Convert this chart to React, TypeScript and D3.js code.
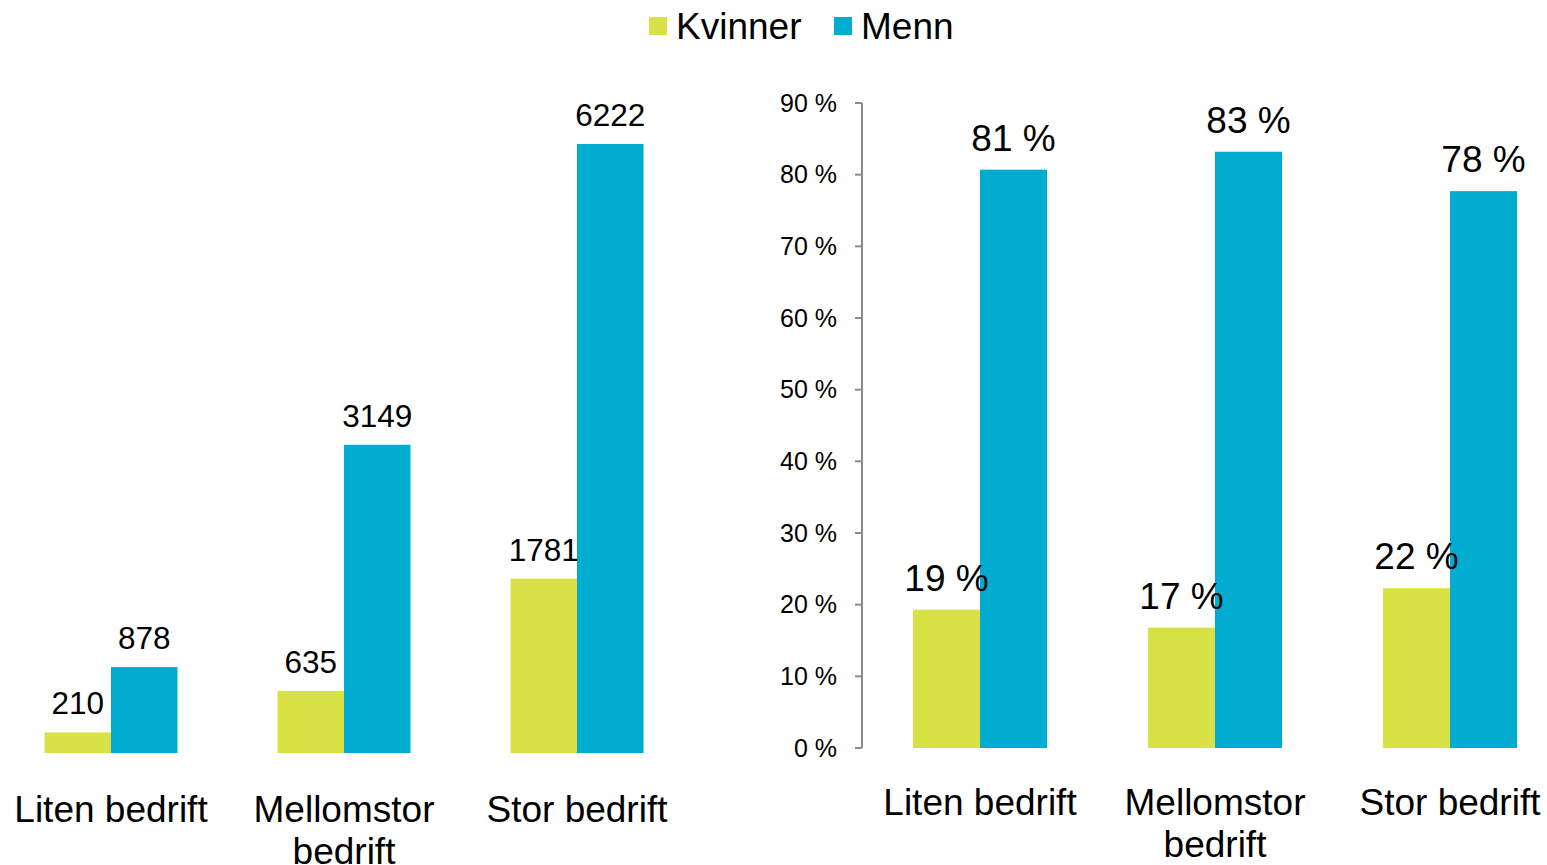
import React from "react";
import * as d3 from "d3";

const categories = ["Liten bedrift", "Mellomstor bedrift", "Stor bedrift"];
const categoryLines = [["Liten bedrift"], ["Mellomstor", "bedrift"], ["Stor bedrift"]];
const series = ["Kvinner", "Menn"];
const countKvinner = [210, 635, 1781];
const countMenn = [878, 3149, 6222];
const pctKvinner = [19.3, 16.8, 22.3];
const pctMenn = [80.7, 83.2, 77.7];
const pctLabelsKvinner = ["19 %", "17 %", "22 %"];
const pctLabelsMenn = ["81 %", "83 %", "78 %"];
const pctTicks = [0, 10, 20, 30, 40, 50, 60, 70, 80, 90];

const colors = ["#D9E245", "#00ADD0"];
const FONT = "'Liberation Sans', Arial, Helvetica, sans-serif";

export default function App() {
  const W = 1547, H = 865;

  // Left chart
  const lx0 = d3.scaleBand<string>().domain(categories).range([-5.5, 693.5]).padding(0);
  const lStep = lx0.step();
  const lx1 = d3.scaleBand<string>().domain(series).range([lStep / 2 - 66.5, lStep / 2 + 66.5]).padding(0);
  const ly = d3.scaleLinear().domain([0, 7000]).range([753, 753 - 7000 * (609 / 6222)]);
  const leftData = [countKvinner, countMenn];

  // Right chart
  const rx0 = d3.scaleBand<string>().domain(categories).range([862.5, 1567.5]).padding(0);
  const rStep = rx0.step();
  const rx1 = d3.scaleBand<string>().domain(series).range([rStep / 2 - 67, rStep / 2 + 67]).padding(0);
  const ry = d3.scaleLinear().domain([0, 90]).range([748, 103]);
  const rightData = [pctKvinner, pctMenn];
  const rightLabels = [pctLabelsKvinner, pctLabelsMenn];
  const axisX = 862;

  return (
    <svg width={W} height={H} style={{ position: "absolute", left: 0, top: 0, background: "#fff" }} fontFamily={FONT}>
      {/* Legend */}
      {series.map((s, i) => {
        const x = [649, 834][i];
        return (
          <g key={s}>
            <rect x={x} y={17} width={18} height={18} fill={colors[i]} />
            <text x={x + 27} y={39} fontSize={37} fill="#000">{s}</text>
          </g>
        );
      })}

      {/* Left chart bars */}
      {categories.map((c, ci) => (
        <g key={"lb" + c}>
          {series.map((s, si) => {
            const v = leftData[si][ci];
            const x = (lx0(c) as number) + (lx1(s) as number);
            return <rect key={s} x={x} y={ly(v)} width={lx1.bandwidth()} height={ly(0) - ly(v)} fill={colors[si]} />;
          })}
        </g>
      ))}
      {/* Left chart labels */}
      {categories.map((c, ci) => (
        <g key={"ll" + c}>
          {series.map((s, si) => {
            const v = leftData[si][ci];
            const x = (lx0(c) as number) + (lx1(s) as number);
            return (
              <text key={s} x={x + lx1.bandwidth() / 2} y={ly(v) - 18} fontSize={31.5} textAnchor="middle" fill="#000">{v}</text>
            );
          })}
          {categoryLines[ci].map((line, li) => (
            <text key={li} x={(lx0(c) as number) + lStep / 2} y={822 + li * 42} fontSize={37} textAnchor="middle" fill="#000">{line}</text>
          ))}
        </g>
      ))}

      {/* Right chart axis */}
      <line x1={axisX} x2={axisX} y1={ry(0)} y2={ry(90)} stroke="#8C8C8C" strokeWidth={2} />
      {pctTicks.map((t) => (
        <g key={t}>
          <line x1={axisX - 7} x2={axisX} y1={ry(t)} y2={ry(t)} stroke="#8C8C8C" strokeWidth={2} />
          <text x={837} y={ry(t) + 8.5} fontSize={25} textAnchor="end" fill="#000">{t + " %"}</text>
        </g>
      ))}

      {/* Right chart bars */}
      {categories.map((c, ci) => (
        <g key={"rb" + c}>
          {series.map((s, si) => {
            const v = rightData[si][ci];
            const x = (rx0(c) as number) + (rx1(s) as number);
            return <rect key={s} x={x} y={ry(v)} width={rx1.bandwidth()} height={ry(0) - ry(v)} fill={colors[si]} />;
          })}
        </g>
      ))}
      {/* Right chart labels */}
      {categories.map((c, ci) => (
        <g key={"rl" + c}>
          {series.map((s, si) => {
            const v = rightData[si][ci];
            const x = (rx0(c) as number) + (rx1(s) as number);
            return (
              <text key={s} x={x + rx1.bandwidth() / 2} y={ry(v) - 19} fontSize={37} textAnchor="middle" fill="#000">{rightLabels[si][ci]}</text>
            );
          })}
          {categoryLines[ci].map((line, li) => (
            <text key={li} x={(rx0(c) as number) + rStep / 2} y={815 + li * 42} fontSize={37} textAnchor="middle" fill="#000">{line}</text>
          ))}
        </g>
      ))}
    </svg>
  );
}
